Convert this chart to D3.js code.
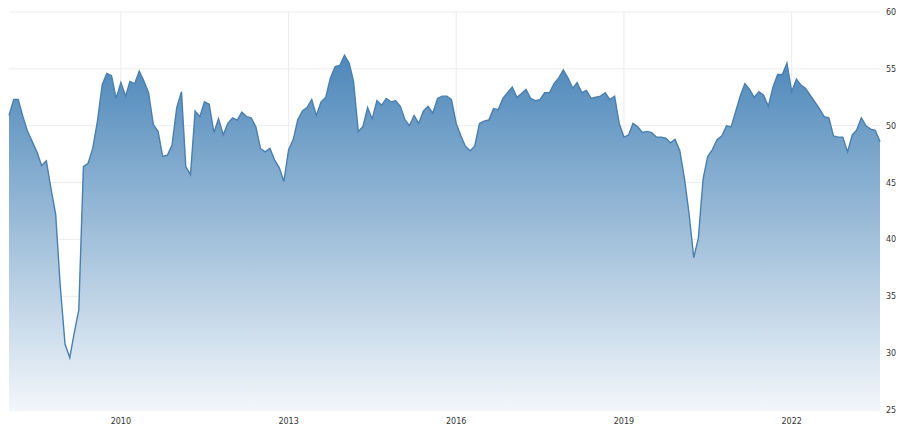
<!DOCTYPE html>
<html><head><meta charset="utf-8">
<script src="https://cdn.jsdelivr.net/npm/d3@7"></script>
<style>body{margin:0;background:#fff}svg{display:block;font-family:"DejaVu Sans",sans-serif}</style>
</head><body>
<svg id="c" width="900" height="430"></svg>
<script>
// monthly values, Jan 2008 .. Aug 2023
const startMonth = new Date(2008, 0, 1);
const values = [
  50.9,52.3,52.3,50.8,49.5,48.6,47.7,46.5,46.9,44.5,42.2,35.9,
  30.8,29.6,31.7,33.8,46.4,46.7,48.0,50.4,53.6,54.6,54.4,52.4,
  53.8,52.6,53.9,53.7,54.8,53.9,52.9,50.1,49.5,47.3,47.4,48.3,
  51.6,53.0,46.4,45.7,51.3,50.8,52.1,51.9,49.4,50.6,49.2,50.2,
  50.7,50.5,51.2,50.8,50.7,49.9,48.0,47.7,48.0,47.0,
  46.3,45.1,47.9,48.8,50.5,51.3,51.6,52.3,50.9,52.1,52.5,54.2,
  55.2,55.3,56.2,55.5,53.9,49.5,49.9,51.6,50.6,52.2,51.8,52.4,
  52.1,52.2,51.7,50.5,50.0,50.9,50.2,51.3,51.7,51.1,52.4,52.6,
  52.6,52.3,50.2,49.1,48.2,47.8,48.2,50.2,50.4,50.5,51.5,51.4,
  52.4,52.9,53.4,52.5,52.8,53.2,52.4,52.2,52.3,52.9,52.9,53.7,
  54.2,54.9,54.2,53.3,53.8,52.9,53.1,52.4,52.5,
  52.6,52.9,52.3,52.6,50.2,49.0,49.2,50.2,49.9,49.4,49.5,49.4,
  49.0,49.0,48.9,48.5,48.8,47.8,45.3,42.3,38.4,40.1,45.3,47.3,
  47.9,48.8,49.1,50.0,49.9,51.3,52.7,53.7,53.2,52.5,53.0,52.7,
  51.7,53.4,54.5,54.5,55.5,53.0,54.1,53.6,53.3,52.7,52.1,51.5,
  50.8,50.7,49.1,49.0,49.0,47.7,49.2,49.6,50.7,50.0,49.7,49.6,48.6
];
const yTicks = [25, 30, 35, 40, 45, 50, 55, 60];
const xTickYears = [2010, 2013, 2016, 2019, 2022];

const data = values.map((v, i) => ({date: d3.timeMonth.offset(startMonth, i), value: v}));
const svg = d3.select("#c");
const x = d3.scaleTime().domain([startMonth, data[data.length - 1].date]).range([9, 880]);
const y = d3.scaleLinear().domain([25, 60]).range([410, 12]);

// grid
svg.append("g").selectAll("line").data(yTicks).join("line")
  .attr("x1", 9).attr("x2", 880).attr("y1", d => y(d)).attr("y2", d => y(d))
  .attr("stroke", "#ececec");
svg.append("g").selectAll("line").data(xTickYears).join("line")
  .attr("x1", d => x(new Date(d, 0, 1))).attr("x2", d => x(new Date(d, 0, 1)))
  .attr("y1", 12).attr("y2", 410).attr("stroke", "#ececec");

const grad = svg.append("defs").append("linearGradient")
  .attr("id", "g").attr("x1", 0).attr("x2", 0).attr("y1", 0).attr("y2", 1)
  .attr("gradientUnits", "userSpaceOnUse")
  .attr("y1", y(56.5)).attr("y2", 410);
grad.append("stop").attr("offset", 0).attr("stop-color", "#4b86b9");
grad.append("stop").attr("offset", 1).attr("stop-color", "#f2f6fa");

svg.append("path").datum(data)
  .attr("fill", "url(#g)")
  .attr("d", d3.area().x(d => x(d.date)).y0(410).y1(d => y(d.value)));
svg.append("path").datum(data)
  .attr("fill", "none").attr("stroke", "#4a7fae").attr("stroke-width", 1.4)
  .attr("d", d3.line().x(d => x(d.date)).y(d => y(d.value)));

// axes labels
svg.append("g").selectAll("text").data(yTicks).join("text")
  .attr("x", 886).attr("y", d => y(d) + 3).attr("font-size", 8).attr("fill", "#333")
  .text(d => d);
svg.append("g").selectAll("text").data(xTickYears).join("text")
  .attr("x", d => x(new Date(d, 0, 1))).attr("y", 424).attr("text-anchor", "middle")
  .attr("font-size", 8).attr("fill", "#333").text(d => d);
</script>
</body></html>
